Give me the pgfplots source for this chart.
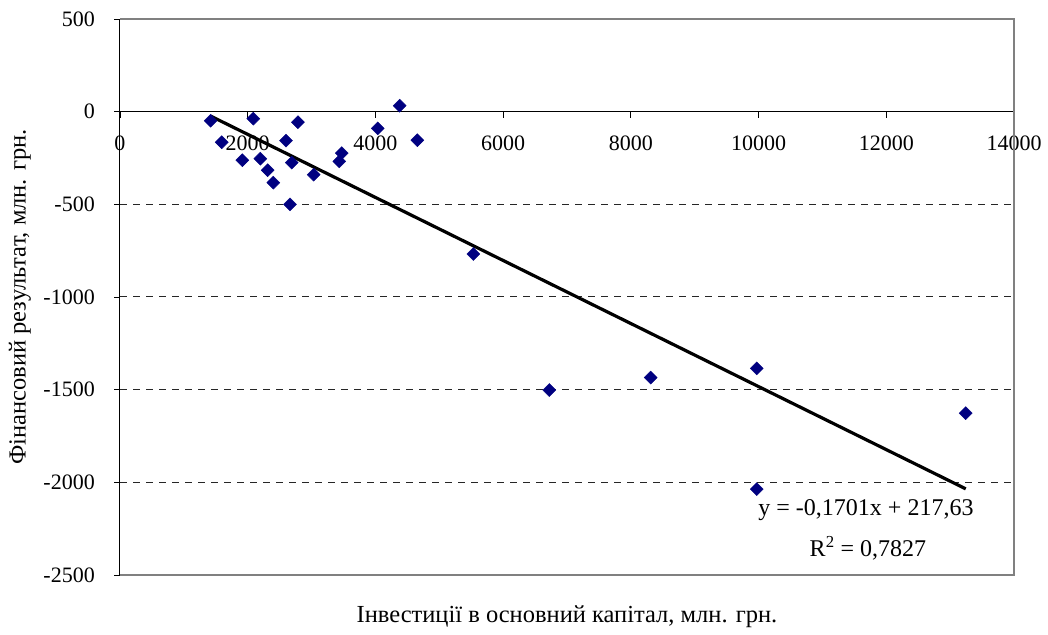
\documentclass[border=0pt]{standalone}
\usepackage{fontspec}
\setmainfont{Liberation Serif}
\usepackage{pgfplots}
\pgfplotsset{compat=1.18}
\definecolor{navy}{RGB}{0,0,128}
\definecolor{framegray}{RGB}{128,128,128}
\newcommand{\fs}{\fontsize{22}{26}\selectfont}
\newcommand{\fl}{\fontsize{24.5}{29}\selectfont}
\newcommand{\ft}{\fontsize{24}{28}\selectfont}
\begin{document}
\begin{tikzpicture}
\begin{axis}[
  at={(120pt,59pt)}, anchor=south west,
  scale only axis, width=894pt, height=556pt,
  xmin=0, xmax=14000, ymin=-2500, ymax=500,
  axis x line=middle, axis y line=left,
  axis line style={-, black, line width=1pt},
  xtick={0,2000,...,14000},
  ytick={-2500,-2000,...,500},
  hide obscured x ticks=false, hide obscured y ticks=false,
  scaled ticks=false,
  /pgf/number format/.cd, 1000 sep={}, assume math mode=true, /pgfplots/.cd,
  tick style={black, line width=0.8pt},
  major tick length=6pt,
  tick align=outside,
  tick label style={font=\fs},
  xticklabel style={anchor=north, inner sep=0pt, yshift=-18pt},
  yticklabel style={anchor=east, inner sep=0pt, xshift=-19pt},
  extra y ticks={-2000,-1500,-1000,-500},
  extra y tick labels={},
  extra y tick style={grid=major, major tick length=0pt, major grid style={black!85, line width=1pt, dash pattern=on 7pt off 6pt}},
  xlabel={Інвестиції в основний капітал, млн. грн.},
  ylabel={Фінансовий результат, млн. грн.},
  label style={font=\fl},
  xlabel style={at={(axis description cs:0.5,-0.0755)}, anchor=center},
  ylabel style={at={(axis description cs:-0.1119,0.5)}, anchor=center},
  clip=false,
]
\draw[framegray, line width=1.3pt] (rel axis cs:0,1) -- (rel axis cs:1,1) -- (rel axis cs:1,0) -- (rel axis cs:0,0);
\addplot[only marks, mark=square*, mark size=4.6pt, mark options={rotate=45, fill=navy, draw=navy}] coordinates {
(1420,-49) (1593,-165) (2087,-38) (1915,-262) (2197,-254) (2313,-316)
(2401,-383) (2600,-156) (2689,-275) (2662,-500) (2787,-57) (3033,-340)
(3472,-224) (3434,-268) (4036,-90) (4380,32) (4656,-154) (5533,-768)
(6723,-1502) (8310,-1435) (9971,-1385) (9971,-2037) (13244,-1627)
};
\addplot[black, line width=3.2pt, no marks] coordinates {(1420,-23.9) (13244,-2035.2)};
\node[font=\ft] at (axis cs:11682,-2149) {y = -0,1701x + 217,63};
\node[font=\ft] at (axis cs:11713,-2354) {R\textsuperscript{2} = 0,7827};
\end{axis}
\pgfresetboundingbox
\path (0,0) rectangle (1048pt,634pt);
\end{tikzpicture}
\end{document}
